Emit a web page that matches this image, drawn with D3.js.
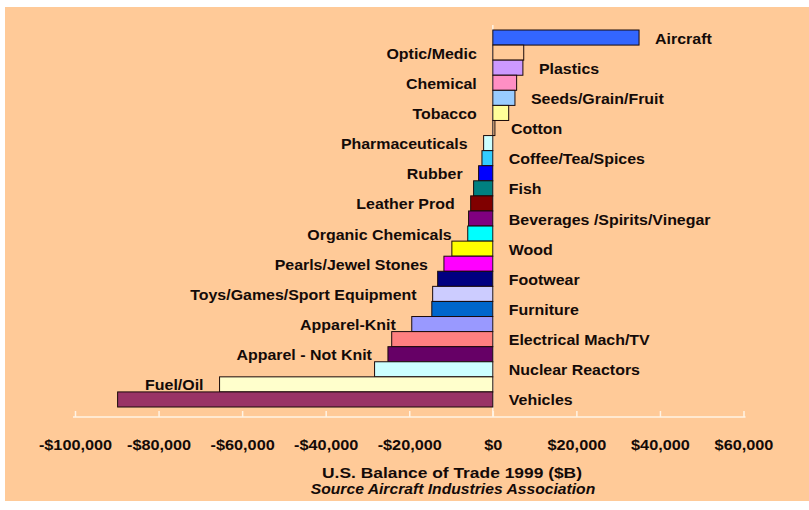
<!DOCTYPE html>
<html>
<head>
<meta charset="utf-8">
<script src="https://cdn.jsdelivr.net/npm/d3@7"></script>
<style>
  body { margin: 0; background: #fff; }
  text { font-family: Arial, 'Liberation Sans', sans-serif; fill: #140a08; }
</style>
</head>
<body>
<svg width="809" height="510"></svg>
<script>
const categories = [
  'Aircraft', 'Optic/Medic', 'Plastics', 'Chemical', 'Seeds/Grain/Fruit', 'Tobacco',
  'Cotton', 'Pharmaceuticals', 'Coffee/Tea/Spices', 'Rubber', 'Fish', 'Leather Prod',
  'Beverages /Spirits/Vinegar', 'Organic Chemicals', 'Wood', 'Pearls/Jewel Stones',
  'Footwear', 'Toys/Games/Sport Equipment', 'Furniture', 'Apparel-Knit',
  'Electrical Mach/TV', 'Apparel - Not Knit', 'Nuclear Reactors', 'Fuel/Oil', 'Vehicles'
]
const values = [
  35000, 7400, 7200, 5700, 5300, 3800,
  500, -2200, -2600, -3400, -4600, -5300,
  -5800, -6000, -9800, -11700,
  -13200, -14400, -14600, -19400,
  -24200, -25100, -28300, -65400, -89800
]
const colors = [
  '#3366ff', '#ffca98', '#cc99ff', '#ff8fc4', '#99ccff', '#ffff99',
  '#ffca98', '#ccffff', '#33ccff', '#0000ff', '#008080', '#800000',
  '#800080', '#00ffff', '#ffff00', '#ff00ff',
  '#000080', '#ccccff', '#0066cc', '#9999ff',
  '#ff8080', '#660066', '#ccffff', '#ffffcc', '#993366'
]
const tickValues = [-100000, -80000, -60000, -40000, -20000, 0, 20000, 40000, 60000]

const svg = d3.select('svg')
const bg = '#ffca98'

svg.append('rect')
  .attr('x', 5).attr('y', 7)
  .attr('width', 804).attr('height', 494)
  .attr('fill', bg)

const x = d3.scaleLinear()
  .domain([-100000, 60000])
  .range([75, 743.5])

const y = d3.scaleBand()
  .domain(categories)
  .range([30, 407])
  .padding(0)

const axisY = 417

// text helper: stretched horizontally like the source picture
function label (x0, y0, str, anchor, size, sx, weight, style) {
  svg.append('g')
    .attr('transform', `translate(${x0},${y0}) scale(${sx},1)`)
    .append('text')
    .attr('text-anchor', anchor)
    .style('font-size', size + 'px')
    .style('font-weight', weight || 'bold')
    .style('font-style', style || 'normal')
    .text(str)
}

// zero line
svg.append('line')
  .attr('x1', x(0)).attr('x2', x(0))
  .attr('y1', 25).attr('y2', axisY)
  .attr('stroke', '#fff3e4')
  .attr('stroke-width', 1.5)

svg.selectAll('.bar')
  .data(categories)
  .enter().append('rect')
  .attr('class', 'bar')
  .attr('x', (d, i) => x(Math.min(0, values[i])))
  .attr('y', (d) => y(d))
  .attr('width', (d, i) => Math.abs(x(values[i]) - x(0)))
  .attr('height', y.bandwidth())
  .attr('fill', (d, i) => colors[i])
  .attr('stroke', '#1a0a0a')
  .attr('stroke-width', 1)

// category labels, alternating right / left
categories.forEach((c, i) => {
  const v = values[i]
  const cy = y(c) + y.bandwidth() / 2 + 6
  if (i % 2 === 0) {
    label(x(Math.max(v, 0)) + 16, cy, c, 'start', 14.5, 1.1)
  } else {
    label(x(Math.min(v, 0)) - 16, cy, c, 'end', 14.5, 1.1)
  }
})

const xAxis = svg.append('g')
  .attr('transform', `translate(0,${axisY})`)
  .call(d3.axisBottom(x)
    .tickValues(tickValues)
    .tickSizeInner(-6)
    .tickSizeOuter(0)
    .tickFormat((d) => (d < 0 ? '-$' : '$') + d3.format(',')(Math.abs(d))))

xAxis.select('.domain')
  .attr('stroke', '#fff3e4')
  .attr('stroke-width', 1.5)
  .attr('d', `M${x(-100000) - 2},0H${x(60000) + 2}`)
xAxis.selectAll('.tick line')
  .attr('stroke', '#fff3e4')
  .attr('stroke-width', 1.5)
xAxis.selectAll('.tick text')
  .attr('y', 33)
  .attr('dy', 0)
  .attr('transform', 'scale(1.05,1)')
  .style('font-size', '15.5px')
  .style('font-weight', 'bold')
  .style('font-family', 'Arial, "Liberation Sans", sans-serif')
  .attr('fill', '#140a08')

label(452, 477.5, 'U.S. Balance of Trade 1999 ($B)', 'middle', 14.5, 1.2)
label(453, 494, 'Source Aircraft Industries Association', 'middle', 14, 1.12, 'bold', 'italic')
</script>
</body>
</html>
